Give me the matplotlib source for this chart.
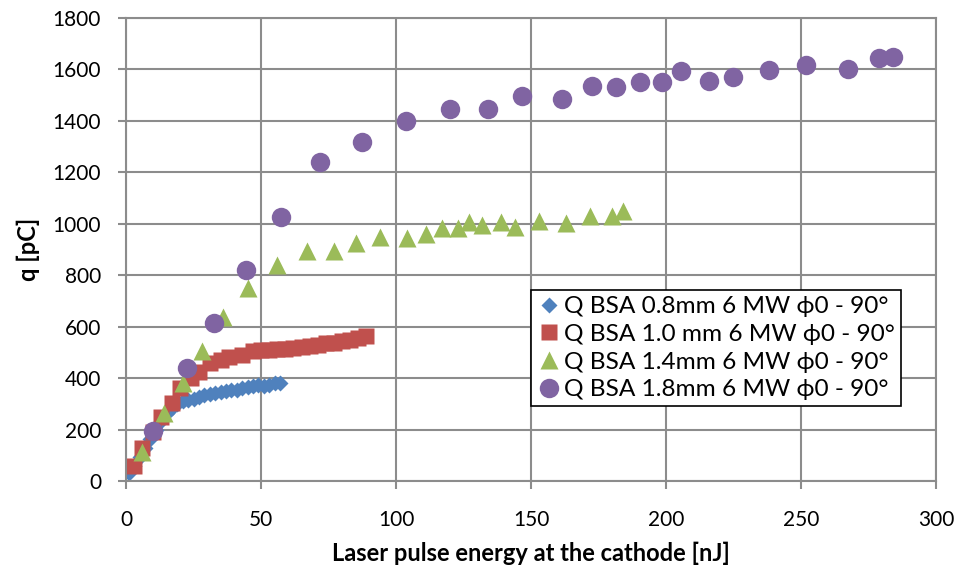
import numpy as np
import matplotlib.pyplot as plt

plt.rcParams['font.family'] = ['Lato', 'DejaVu Sans']

# Q BSA 0.8 mm
x_08 = [1, 3, 5, 7, 9, 11, 13, 15, 17, 19, 21, 23, 25, 27, 29, 31, 33, 35, 37,
        39, 41, 43, 45, 47, 49, 51, 53, 55, 57]
q_08 = [30, 60, 95, 130, 165, 200, 235, 265, 285, 300, 310, 315, 320, 328, 333,
        338, 342, 345, 350, 352, 355, 360, 365, 368, 372, 370, 375, 380, 380]

# Q BSA 1.0 mm
x_10 = [3, 6, 10, 13, 17, 20, 24, 27, 31, 35, 38, 43, 47, 50, 53, 56, 59, 62,
        65, 68, 71, 74, 77, 80, 83, 86, 89]
q_10 = [58, 128, 190, 250, 303, 360, 400, 425, 458, 470, 482, 490, 505, 508,
        510, 512, 515, 518, 522, 526, 530, 535, 538, 545, 550, 555, 562]

# Q BSA 1.4 mm
x_14 = [6, 14, 21, 28, 36, 45, 56, 67, 77, 85, 94, 104, 111, 117, 123, 127,
        132, 139, 144, 153, 163, 172, 180, 184]
q_14 = [113, 264, 380, 505, 638, 750, 840, 895, 895, 925, 949, 945, 960, 983,
        983, 1007, 995, 1007, 988, 1011, 1003, 1030, 1030, 1050]

# Q BSA 1.8 mm
x_18 = [10, 22.6, 32.6, 44.4, 57.4, 72, 87.4, 103.7, 120, 134, 146.7, 161.6,
        172.6, 181.5, 190.4, 198.5, 205.6, 216, 224.8, 238, 252, 267.4, 279, 284]
q_18 = [194, 438, 614, 820, 1027, 1241, 1318, 1400, 1446, 1446, 1497, 1485,
        1536, 1533, 1551, 1553, 1594, 1557, 1571, 1598, 1618, 1603, 1645, 1650]

labels = ['Q BSA 0.8mm 6 MW ϕ0 - 90°', 'Q BSA 1.0 mm 6 MW ϕ0 - 90°',
          'Q BSA 1.4mm 6 MW ϕ0 - 90°', 'Q BSA 1.8mm 6 MW ϕ0 - 90°']

fig = plt.figure(figsize=(9.59, 5.69), dpi=100)
ax = fig.add_axes([126/959, 1 - 481/569, (936-126)/959, (481-18)/569])

grid_c = '#8c8c8c'
ax.plot(x_08, q_08, ls='none', marker='D', ms=8, color='#4F81BD', mec='none', label=labels[0])
ax.plot(x_10, q_10, ls='none', marker='s', ms=12, color='#C0504D', mec='none', label=labels[1])
ax.plot(x_14, q_14, ls='none', marker='^', ms=13, color='#9BBB59', mec='none', label=labels[2])
ax.plot(x_18, q_18, ls='none', marker='o', ms=14, color='#8064A2', mec='none', label=labels[3])

ax.set_xlim(0, 300)
ax.set_ylim(0, 1800)
ax.set_xticks(np.arange(0, 301, 50))
ax.set_yticks(np.arange(0, 1801, 200))
ax.grid(True, color=grid_c, lw=1.5)
ax.set_axisbelow(True)
for s in ax.spines.values():
    s.set_color(grid_c)
    s.set_linewidth(1.5)
ax.tick_params(colors=grid_c, labelcolor='black', labelsize=15, length=6, width=1.5)
ax.tick_params(axis='x', pad=15)
ax.tick_params(axis='y', pad=12)

ax.set_xlabel('Laser pulse energy at the cathode [nJ]', fontsize=17, fontweight='bold', labelpad=8)
ax.set_ylabel('q [pC]', fontsize=17, fontweight='bold', labelpad=9)

leg = ax.legend(loc='upper left', bbox_to_anchor=((531-126)/810, (481-290)/463),
                fontsize=17.6, frameon=True, fancybox=False, borderaxespad=0,
                handletextpad=0.1, handlelength=1.0, borderpad=0.25, labelspacing=0.27)
leg.get_frame().set_edgecolor('black')
leg.get_frame().set_linewidth(1.2)
leg.get_frame().set_alpha(1)

fig.savefig('out.png', dpi=100)
